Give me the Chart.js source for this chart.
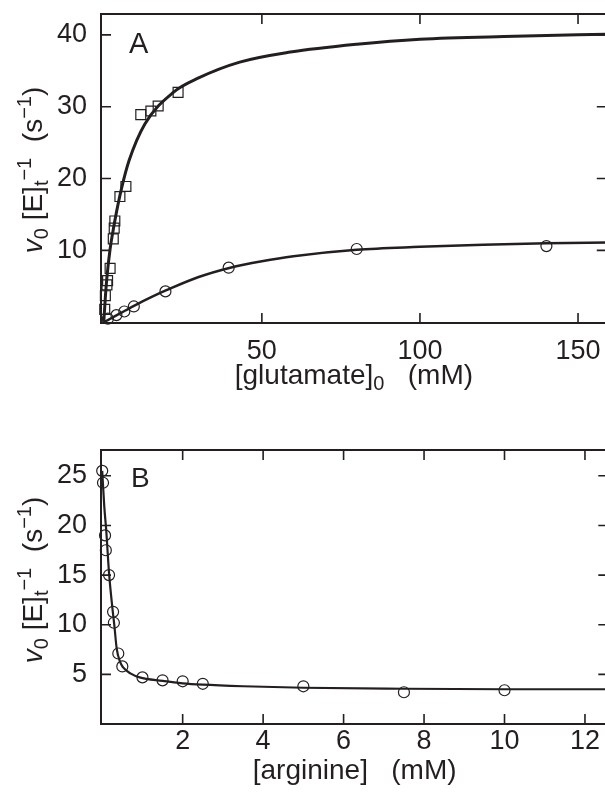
<!DOCTYPE html>
<html>
<head>
<meta charset="utf-8">
<script src="https://cdn.jsdelivr.net/npm/chart.js@4"></script>
<style>
  body { margin: 0; background: #fff; overflow: hidden; width: 605px; height: 793px; position: relative; }
  canvas { position: absolute; left: 0; }
</style>
</head>
<body>
<canvas id="chartA" width="615" height="400" style="top:0"></canvas>
<canvas id="chartB" width="615" height="363" style="top:430px"></canvas>
<script>
// panel A: glutamate
const glutSqX = [0.3, 0.5, 1.0, 1.2, 2.0, 3.0, 3.3, 3.5, 5.1, 7.0, 11.7, 14.9, 17.2, 23.5];
const glutSqY = [1.8, 3.7, 5.2, 5.8, 7.5, 11.6, 13.1, 14.1, 17.5, 18.9, 28.9, 29.4, 30.1, 32.0];
const glutCircX = [1.3, 4.0, 6.5, 9.5, 19.5, 39.5, 80, 140];
const glutCircY = [0.5, 1.0, 1.5, 2.2, 4.3, 7.6, 10.2, 10.6];
const glutFitUpX = [0, 0.5, 1, 2, 3, 4, 5.6, 8, 13, 22, 30, 43, 59, 80, 100, 130, 160];
const glutFitUpY = [0, 3.5, 6.3, 10.2, 12.9, 15.3, 18.6, 22.5, 27.6, 32.0, 34.0, 36.2, 37.6, 38.7, 39.4, 39.8, 40.1];
const glutFitLoX = [0, 5, 10, 15, 20, 30, 40, 50, 60, 80, 100, 120, 140, 160];
const glutFitLoY = [0, 1.2, 2.4, 3.5, 4.5, 6.3, 7.6, 8.5, 9.2, 10.1, 10.5, 10.8, 11.0, 11.1];
const glutTicks = [50, 100, 150];
const rateTicksA = [10, 20, 30, 40];

// panel B: arginine
const argX = [0, 0.02, 0.07, 0.09, 0.17, 0.27, 0.29, 0.4, 0.5, 1, 1.5, 2, 2.5, 5, 7.5, 10];
const argY = [25.5, 24.3, 19.0, 17.5, 15.0, 11.3, 10.2, 7.1, 5.8, 4.7, 4.4, 4.3, 4.05, 3.8, 3.2, 3.4];
const argFitX = [0, 0.05, 0.1, 0.17, 0.25, 0.3, 0.36, 0.45, 0.52, 0.7, 0.93, 1.5, 2, 2.5, 3.5, 5, 7.5, 10, 12.6];
const argFitY = [25.5, 22, 19.5, 15.2, 11.8, 10.0, 7.6, 6.2, 5.7, 5.1, 4.7, 4.35, 4.1, 3.96, 3.8, 3.65, 3.55, 3.5, 3.5];
const argTicks = [2, 4, 6, 8, 10, 12];
const rateTicksB = [5, 10, 15, 20, 25];

const ink = '#231f20';
const fam = '"Liberation Sans", Arial, sans-serif';
const pts = (xs, ys) => xs.map((x, i) => ({ x, y: ys[i] }));

function drawRich(ctx, parts, x, y) {
  let w = 0;
  parts.forEach(p => {
    ctx.font = (p.italic ? 'italic ' : '') + p.size + 'px ' + fam;
    p.w = ctx.measureText(p.t).width;
    w += p.w;
  });
  let cx = x - w / 2;
  parts.forEach(p => {
    ctx.font = (p.italic ? 'italic ' : '') + p.size + 'px ' + fam;
    ctx.fillText(p.t, cx, y + (p.dy || 0));
    cx += p.w;
  });
}

const frame = {
  id: 'frame',
  afterDatasetsDraw(chart, args, o) {
    const { ctx, chartArea: a, scales: { x, y } } = chart;
    ctx.save();
    ctx.strokeStyle = ink;
    ctx.fillStyle = ink;
    ctx.lineWidth = 2;
    ctx.strokeRect(a.left, a.top, a.right - a.left, a.bottom - a.top);
    ctx.lineWidth = 1.6;
    ctx.beginPath();
    x.ticks.forEach(t => {
      const px = x.getPixelForValue(t.value);
      ctx.moveTo(px, a.bottom); ctx.lineTo(px, a.bottom - 10);
      ctx.moveTo(px, a.top); ctx.lineTo(px, a.top + 10);
    });
    y.ticks.forEach(t => {
      const py = y.getPixelForValue(t.value);
      ctx.moveTo(a.left, py); ctx.lineTo(a.left + 10, py);
      ctx.moveTo(a.right, py); ctx.lineTo(a.right - 10, py);
    });
    ctx.stroke();

    ctx.textBaseline = 'alphabetic';
    ctx.textAlign = 'left';
    ctx.font = o.letterSize + 'px ' + fam;
    ctx.fillText(o.letter, o.letterX, o.letterY);

    drawRich(ctx, o.xTitle, (a.left + a.right) / 2, o.xTitleY);

    ctx.translate(o.yTitleX, o.yTitleY);
    ctx.rotate(-Math.PI / 2);
    drawRich(ctx, o.yTitle, 0, 0);
    ctx.restore();
  }
};

const yTitle = [
  { t: 'v', size: 28, italic: true },
  { t: '0', size: 20, dy: 6 },
  { t: ' [E]', size: 28 },
  { t: 't', size: 20, dy: 6 },
  { t: '\u22121', size: 20, dy: -11 },
  { t: '  (s', size: 28 },
  { t: '\u22121', size: 20, dy: -11 },
  { t: ')', size: 28 }
];

function scaleOpts(min, max, ticks, pad, fit) {
  return {
    type: 'linear', min, max,
    grid: { display: false, drawTicks: false },
    border: { display: false },
    afterBuildTicks: s => { s.ticks = ticks.map(v => ({ value: v })); },
    afterFit: s => {
      fit(s);
      s.paddingTop = 0; s.paddingBottom = 0; s.paddingLeft = 0; s.paddingRight = 0;
    },
    ticks: { color: ink, font: { family: fam, size: 27 }, padding: pad }
  };
}

const markerStyle = { showLine: false, borderColor: ink, backgroundColor: 'rgba(0,0,0,0)', borderWidth: 1.2, clip: false };
const lineStyle = { showLine: true, pointRadius: 0, borderColor: ink, cubicInterpolationMode: 'monotone', fill: false };

new Chart(document.getElementById('chartA'), {
  type: 'scatter',
  data: {
    datasets: [
      { ...lineStyle, data: pts(glutFitUpX, glutFitUpY), borderWidth: 3 },
      { ...lineStyle, data: pts(glutFitLoX, glutFitLoY), borderWidth: 2.5 },
      { ...markerStyle, data: pts(glutSqX, glutSqY), pointStyle: 'rect', pointRadius: 7 },
      { ...markerStyle, data: pts(glutCircX, glutCircY), pointStyle: 'circle', pointRadius: 5.5 }
    ]
  },
  options: {
    responsive: false,
    animation: false,
    layout: { padding: { top: 14, right: 5, left: 0, bottom: 0 } },
    scales: {
      x: scaleOpts(-0.88, 159.1, glutTicks, 12, s => { s.height = 77; }),
      y: scaleOpts(-0.1, 42.9, rateTicksA, 14, s => { s.width = 101; })
    },
    plugins: {
      legend: { display: false },
      tooltip: { enabled: false },
      frame: {
        letter: 'A', letterX: 129, letterY: 53, letterSize: 29,
        xTitle: [{ t: '[glutamate]', size: 28 }, { t: '0', size: 20, dy: 6 }, { t: '   (mM)', size: 28 }],
        xTitleY: 384,
        yTitle, yTitleX: 42, yTitleY: 170
      }
    }
  },
  plugins: [frame]
});

new Chart(document.getElementById('chartB'), {
  type: 'scatter',
  data: {
    datasets: [
      { ...lineStyle, data: pts(argFitX, argFitY), borderWidth: 2.2 },
      { ...markerStyle, data: pts(argX, argY), pointStyle: 'circle', pointRadius: 5.5 }
    ]
  },
  options: {
    responsive: false,
    animation: false,
    layout: { padding: { top: 20, right: 5, left: 0, bottom: 0 } },
    scales: {
      x: scaleOpts(-0.03, 12.58, argTicks, 1, s => { s.height = 69; }),
      y: scaleOpts(0, 27.6, rateTicksB, 14, s => { s.width = 101; })
    },
    plugins: {
      legend: { display: false },
      tooltip: { enabled: false },
      frame: {
        letter: 'B', letterX: 131, letterY: 57, letterSize: 28,
        xTitle: [{ t: '[arginine]', size: 28 }, { t: '   (mM)', size: 28 }],
        xTitleY: 349,
        yTitle, yTitleX: 42, yTitleY: 150
      }
    }
  },
  plugins: [frame]
});
</script>
</body>
</html>
